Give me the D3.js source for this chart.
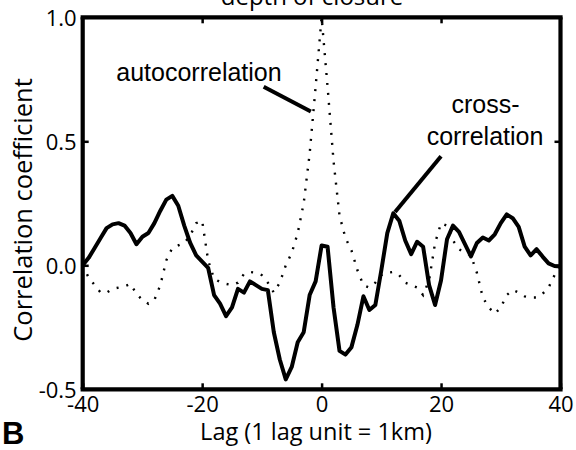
<!DOCTYPE html>
<html>
<head>
<meta charset="utf-8">
<script src="https://cdn.jsdelivr.net/npm/d3@7"></script>
<style>
  html, body { margin: 0; padding: 0; background: #fff; overflow: hidden; }
  svg { display: block; }
</style>
</head>
<body>
<svg id="chart" width="576" height="450" viewBox="0 0 576 450"></svg>
<script>
// ---- data ----
const lags = d3.range(-40, 41);
const crossCorrelation = [
  0.0, 0.03, 0.07, 0.11, 0.15, 0.165, 0.17, 0.16, 0.13, 0.085,
  0.115, 0.13, 0.17, 0.22, 0.265, 0.28, 0.24, 0.16, 0.09, 0.04,
  0.015, -0.01, -0.12, -0.155, -0.205, -0.17, -0.095, -0.11, -0.065, -0.08,
  -0.095, -0.1, -0.27, -0.38, -0.46, -0.41, -0.31, -0.27, -0.12, -0.065,
  0.08,
  0.075, -0.17, -0.345, -0.36, -0.33, -0.24, -0.125, -0.18, -0.16, -0.02,
  0.13, 0.21, 0.18, 0.1, 0.045, 0.095, 0.075, -0.08, -0.16, -0.06,
  0.105, 0.16, 0.135, 0.085, 0.036, 0.09, 0.112, 0.1, 0.125, 0.17,
  0.205, 0.19, 0.155, 0.075, 0.04, 0.065, 0.035, 0.008, -0.003, -0.005
];
const autoCorrelation = [
  0.0, -0.05, -0.08, -0.11, -0.11, -0.095, -0.09, -0.085, -0.075, -0.115,
  -0.14, -0.155, -0.14, -0.08, 0.02, 0.07, 0.08, 0.09, 0.12, 0.17,
  0.18, 0.02, -0.055, -0.067, -0.075, -0.08, -0.07, -0.035, -0.027, -0.03,
  -0.04, -0.07, -0.11, -0.07, 0.0, 0.05, 0.13, 0.25, 0.45, 0.72,
  1.0,
  0.72, 0.42, 0.2, 0.11, 0.06, -0.02, -0.08, -0.09, -0.07, -0.04,
  -0.03, -0.027, -0.04, -0.07, -0.08, -0.09, -0.12, -0.06, 0.09, 0.17,
  0.16, 0.1, 0.065, 0.05, 0.04, -0.03, -0.13, -0.17, -0.195, -0.17,
  -0.12, -0.1, -0.11, -0.125, -0.13, -0.13, -0.115, -0.09, -0.04, 0.0
];
const xTicks = [-40, -20, 0, 20, 40];
const xTickLabels = ["-40", "-20", "0", "20", "40"];
const yTicks = [-0.5, 0.0, 0.5, 1.0];
const yTickLabels = ["-0.5", "0.0", "0.5", "1.0"];
const titleText = "depth of closure";
const xLabel = "Lag (1 lag unit = 1km)";
const yLabel = "Correlation coefficient";
const panelLetter = "B";
const annotations = [
  { lines: ["autocorrelation"], from: [-9.7, 0.72], to: [-1.8, 0.62] },
  { lines: ["cross-", "correlation"], from: [20.0, 0.44], to: [12.3, 0.215] }
];

// ---- layout ----
const svg = d3.select("#chart");
const L = 82.7, R = 560.5, T = 17.3, B = 389.3;
const x = d3.scaleLinear().domain([-40, 40]).range([L, R]);
const y = d3.scaleLinear().domain([-0.5, 1.0]).range([B, T]);
const axisFont = "'Open Sans', 'Noto Sans', sans-serif";
const annFont = "'Liberation Sans', Arial, sans-serif";

svg.append("defs").append("clipPath").attr("id", "clip")
  .append("rect").attr("x", L).attr("y", T).attr("width", R - L).attr("height", B - T);

// title (clipped at top)
svg.append("text").attr("x", 312).attr("y", 4.5)
  .attr("text-anchor", "middle").attr("font-family", axisFont)
  .attr("font-size", 24).attr("fill", "#000").text(titleText);

const plot = svg.append("g").attr("clip-path", "url(#clip)");

const line = d3.line().x((d, i) => x(lags[i])).y(d => y(d));

plot.append("path").datum(autoCorrelation)
  .attr("d", line).attr("fill", "none").attr("stroke", "#000")
  .attr("stroke-width", 2.4).attr("stroke-dasharray", "2,8");

plot.append("path").datum(crossCorrelation)
  .attr("d", line).attr("fill", "none").attr("stroke", "#000")
  .attr("stroke-width", 4).attr("stroke-linejoin", "round");

// axes via d3 axis generators, ticks drawn inward
const tickLen = 6;
const xAxisB = d3.axisBottom(x).tickValues(xTicks).tickFormat((d, i) => xTickLabels[i])
  .tickSizeInner(-tickLen).tickSizeOuter(0).tickPadding(tickLen + 4);
const gxb = svg.append("g").attr("transform", `translate(0,${B})`).call(xAxisB);
gxb.select(".domain").remove();
gxb.selectAll("line").attr("stroke", "#000").attr("stroke-width", 2.5);
gxb.selectAll("text").attr("font-family", axisFont).attr("font-size", 22).attr("fill", "#000")
  .attr("dy", null).attr("y", 23);

const xAxisT = d3.axisTop(x).tickValues([-20, 0, 20]).tickFormat("")
  .tickSizeInner(-tickLen).tickSizeOuter(0);
const gxt = svg.append("g").attr("transform", `translate(0,${T})`).call(xAxisT);
gxt.select(".domain").remove();
gxt.selectAll("line").attr("stroke", "#000").attr("stroke-width", 2.5);

const yAxisL = d3.axisLeft(y).tickValues(yTicks).tickFormat((d, i) => yTickLabels[i])
  .tickSizeInner(-tickLen).tickSizeOuter(0).tickPadding(tickLen);
const gyl = svg.append("g").attr("transform", `translate(${L},0)`).call(yAxisL);
gyl.select(".domain").remove();
gyl.selectAll("line").attr("stroke", "#000").attr("stroke-width", 2.5);
gyl.selectAll("text").attr("font-family", axisFont).attr("font-size", 22).attr("fill", "#000")
  .attr("x", -6).attr("dy", "0.36em");

const yAxisR = d3.axisRight(y).tickValues([0.0, 0.5]).tickFormat("")
  .tickSizeInner(-tickLen).tickSizeOuter(0);
const gyr = svg.append("g").attr("transform", `translate(${R},0)`).call(yAxisR);
gyr.select(".domain").remove();
gyr.selectAll("line").attr("stroke", "#000").attr("stroke-width", 2.5);

// frame: four explicit sides
const frameSides = [
  [L - 2.1, T, R + 2.1, T],
  [R, T, R, B],
  [R + 2.1, B, L - 2.1, B],
  [L, B, L, T]
];
svg.append("g").attr("class", "frame").selectAll("line").data(frameSides).join("line")
  .attr("x1", d => d[0]).attr("y1", d => d[1])
  .attr("x2", d => d[2]).attr("y2", d => d[3])
  .style("stroke", "#000").style("stroke-width", "4.2px");

// axis labels
svg.append("text").attr("x", 316).attr("y", 440)
  .attr("text-anchor", "middle").attr("font-family", axisFont).attr("font-size", 23.5)
  .attr("fill", "#000").text(xLabel);
svg.append("text").attr("transform", `translate(31.5,${(75 + 345) / 2}) rotate(-90)`)
  .attr("text-anchor", "middle").attr("font-family", axisFont).attr("font-size", 25.5)
  .attr("fill", "#000").text(yLabel);

// panel letter
svg.append("text").attr("x", 2).attr("y", 443.5)
  .attr("font-family", annFont).attr("font-weight", "bold").attr("font-size", 31)
  .attr("fill", "#000").text(panelLetter);

// annotations
svg.append("text").attr("x", 199).attr("y", 81)
  .attr("text-anchor", "middle").attr("font-family", annFont).attr("font-size", 25)
  .attr("fill", "#000").text(annotations[0].lines[0]);
svg.append("text").attr("x", 485.5).attr("y", 112.5)
  .attr("text-anchor", "middle").attr("font-family", annFont).attr("font-size", 25)
  .attr("fill", "#000").text(annotations[1].lines[0]);
svg.append("text").attr("x", 485).attr("y", 145)
  .attr("text-anchor", "middle").attr("font-family", annFont).attr("font-size", 25)
  .attr("fill", "#000").text(annotations[1].lines[1]);

annotations.forEach(a => {
  svg.append("line")
    .attr("x1", x(a.from[0])).attr("y1", y(a.from[1]))
    .attr("x2", x(a.to[0])).attr("y2", y(a.to[1]))
    .attr("stroke", "#000").attr("stroke-width", 4);
});
</script>
</body>
</html>
